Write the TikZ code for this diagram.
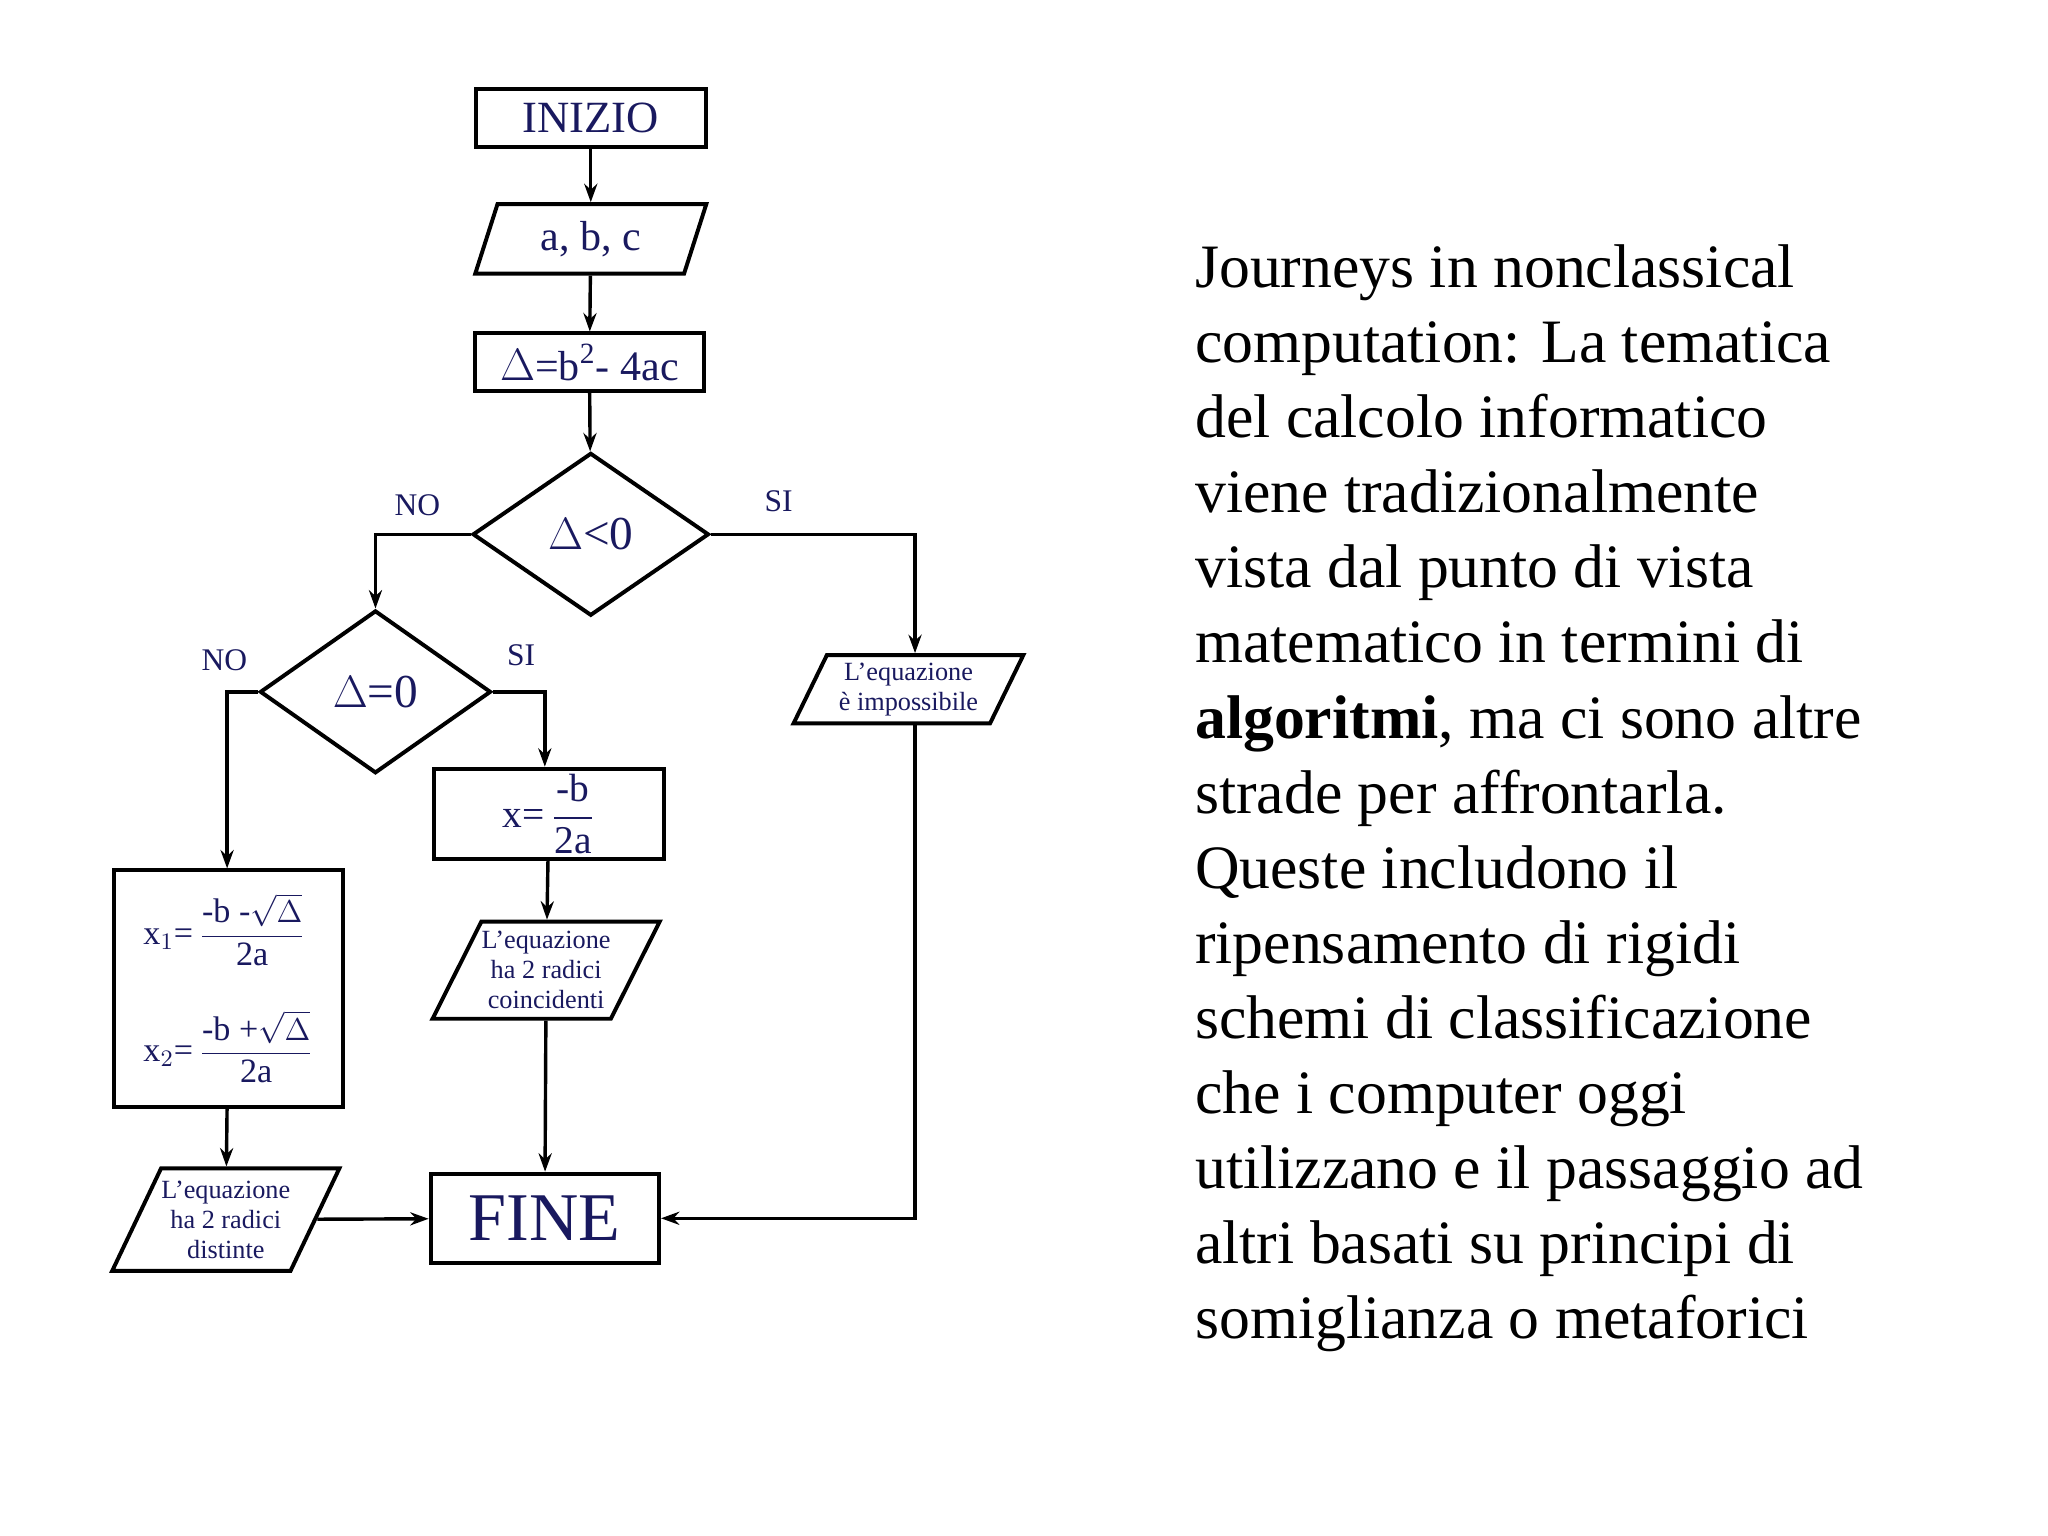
\documentclass[tikz,border=0pt]{standalone}
\usepackage{amsmath}
\usepackage{fontspec}
\setmainfont{Liberation Serif}
\usetikzlibrary{shapes.geometric,arrows.meta}
\definecolor{navy}{RGB}{25,25,95}
\begin{document}
\begin{tikzpicture}[x=0.5pt,y=-0.5pt,
  every node/.style={text=navy,inner sep=0pt},
  box/.style={draw=black,line width=1.5pt,rectangle},
  para/.style={draw=black,line width=1.5pt,trapezium,trapezium left angle=58,trapezium right angle=122,trapezium stretches body},
  dia/.style={draw=black,line width=1.5pt,diamond,minimum width=90pt,minimum height=62pt},
  conn/.style={line width=1.3pt,-{Stealth[length=7pt,width=5pt]}},
  lab/.style={font=\fontsize{12}{14}\selectfont}]
\useasboundingbox (0,0) rectangle (1560,1170);
\node[box,minimum width=87.5pt,minimum height=22pt,font=\fontsize{17}{20}\selectfont] (ini) at (450,90) {INIZIO};
\node[para,minimum width=88pt,minimum height=26.5pt,font=\fontsize{16}{19}\selectfont] (abc) at (450,182) {a, b, c};
\node[box,minimum width=87.5pt,minimum height=22pt,font=\fontsize{16}{19}\selectfont] (del) at (449,276) {$\Delta$=b\textsuperscript{2}- 4ac};
\node[dia,font=\fontsize{18}{20}\selectfont] (d1) at (450,407) {$\Delta$<0};
\node[dia,minimum width=88pt,font=\fontsize{18}{20}\selectfont] (d2) at (286,527) {$\Delta$=0};
\node[lab] (no1) at (318,385) {NO};
\node[lab] (si1) at (593,382) {SI};
\node[lab] (no2) at (171,503) {NO};
\node[lab] (si2) at (397,499) {SI};
\node[para,minimum width=87.5pt,minimum height=26pt,align=center,font=\fontsize{10}{11.5}\selectfont] (imp) at (692,525) {L'equazione\\è impossibile};
\node[box,minimum width=87.5pt,minimum height=34.5pt,font=\fontsize{15}{17}\selectfont] (xb) at (418,620) {x=\,$\dfrac{\mbox{-b}}{\mbox{2a}}$};
\node[para,minimum width=86.5pt,minimum height=37pt,align=center,font=\fontsize{10}{11.5}\selectfont] (coi) at (416,739) {L'equazione\\ha 2 radici\\coincidenti};
\node[box,minimum width=87pt,minimum height=90pt,align=left,font=\fontsize{13}{15}\selectfont] (x12) at (174,753) {$\mathrm{x}_1$=\,$\dfrac{\mbox{-b -}\sqrt{\Delta}}{\mbox{2a}}$\\[16pt]$\mathrm{x}_2$=\,$\dfrac{\mbox{-b +}\sqrt{\Delta}}{\mbox{2a}}$};
\node[para,minimum width=86.5pt,minimum height=39pt,align=center,font=\fontsize{10}{11.5}\selectfont] (dis) at (172,929) {L'equazione\\ha 2 radici\\distinte};
\node[box,minimum width=87pt,minimum height=34pt,font=\fontsize{26}{30}\selectfont] (fine) at (415,928) {FINE};
\coordinate (c1) at (286,407);
\coordinate (c2) at (697,407);
\coordinate (c3) at (173,527);
\coordinate (c4) at (415,527);
\coordinate (c5) at (697,928);
\draw[conn] (ini) -- (abc);
\draw[conn] (abc) -- (del);
\draw[conn] (del) -- (d1);
\draw[conn] (d1.west) -- (c1) -- (d2.north);
\draw[conn] (d1.east) -- (c2) -- (imp.north -| c2);
\draw[conn] (d2.west) -- (c3) -- (x12.north -| c3);
\draw[conn] (d2.east) -- (c4) -- (xb.north -| c4);
\draw[conn] (xb) -- (coi);
\draw[conn] (coi) -- (fine);
\draw[conn] (x12) -- (dis);
\draw[conn] (dis) -- (fine);
\draw[conn] (imp.south -| c5) -- (c5) -- (fine.east);
\node[text=black,anchor=north west,align=left,font=\fontsize{23.5}{28.6}\selectfont] (txt) at (910,186) {Journeys in nonclassical\\computation: La tematica\\del calcolo informatico\\viene tradizionalmente\\vista dal punto di vista\\matematico in termini di\\\textbf{algoritmi}, ma ci sono altre\\strade per affrontarla.\\Queste includono il\\ripensamento di rigidi\\schemi di classificazione\\che i computer oggi\\utilizzano e il passaggio ad\\altri basati su principi di\\somiglianza o metaforici};
\end{tikzpicture}
\end{document}
